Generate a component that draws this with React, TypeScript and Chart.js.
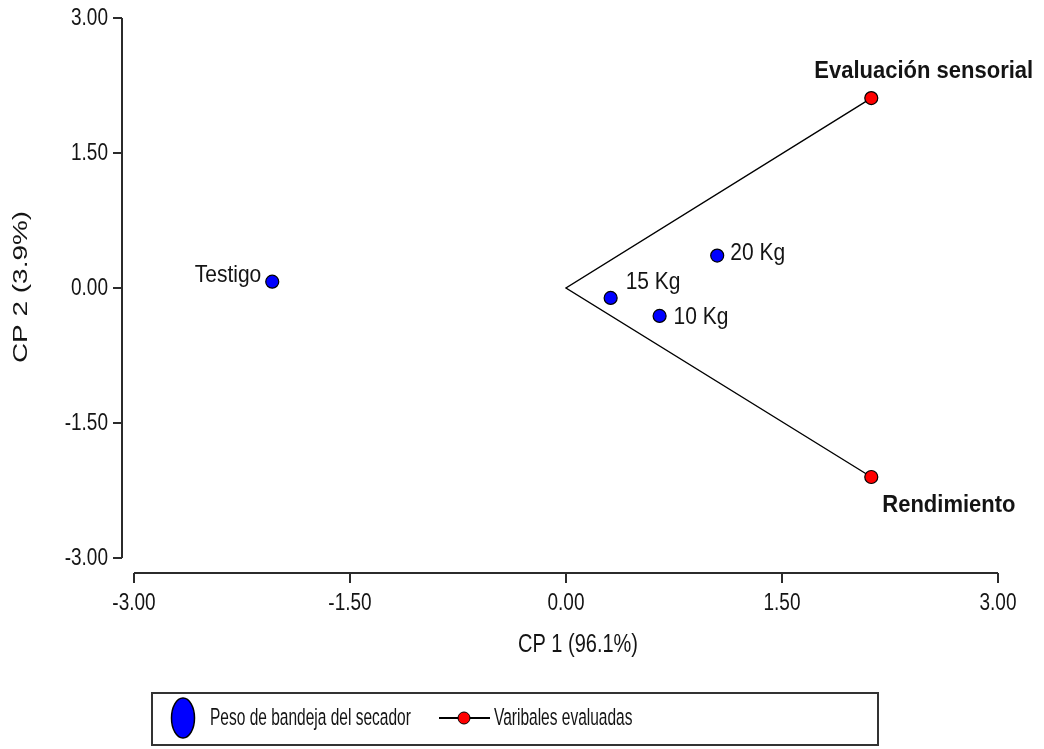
import React, { useEffect, useRef } from "react";
import { Chart, registerables } from "chart.js";

Chart.register(...registerables);

// ---- data ----
const treatmentNames = ["Testigo", "15 Kg", "10 Kg", "20 Kg"];
const treatmentCP1 = [-2.04, 0.31, 0.65, 1.05];
const treatmentCP2 = [0.07, -0.11, -0.31, 0.36];

const variableNames = ["Evaluación sensorial", "Rendimiento"];
const variableCP1 = [2.12, 2.12];
const variableCP2 = [2.11, -2.1];

const tickValues = [-3, -1.5, 0, 1.5, 3];
const tickLabels = ["-3.00", "-1.50", "0.00", "1.50", "3.00"];

const xTitle = "CP 1 (96.1%)";
const yTitle = "CP 2 (3.9%)";
const legendTreatments = "Peso de bandeja del secador";
const legendVariables = "Varibales evaluadas";

const FONT = "'Liberation Sans', Arial, sans-serif";

function drawText(
  ctx: CanvasRenderingContext2D,
  text: string,
  x: number,
  y: number,
  font: string,
  align: CanvasTextAlign,
  baseline: CanvasTextBaseline,
  sy: number,
  color = "#141414"
) {
  ctx.save();
  ctx.translate(x, y);
  ctx.scale(1, sy);
  ctx.font = font;
  ctx.textAlign = align;
  ctx.textBaseline = baseline;
  ctx.fillStyle = color;
  ctx.fillText(text, 0, 0);
  ctx.restore();
}

const biplotPlugin = {
  id: "biplotDecor",
  beforeDatasetsDraw(chart: any) {
    const ctx: CanvasRenderingContext2D = chart.ctx;
    const xs = chart.scales.x;
    const ys = chart.scales.y;
    const area = chart.chartArea;
    ctx.save();
    ctx.strokeStyle = "#2b2b2b";
    ctx.lineWidth = 2;
    // y axis (offset left)
    const ax = area.left - 12;
    ctx.beginPath();
    ctx.moveTo(ax, ys.getPixelForValue(3));
    ctx.lineTo(ax, ys.getPixelForValue(-3));
    ys.ticks.forEach((t: any) => {
      const py = ys.getPixelForValue(t.value);
      ctx.moveTo(ax, py);
      ctx.lineTo(ax - 9, py);
    });
    ctx.stroke();
    // x axis (offset down)
    const ay = area.bottom + 15;
    ctx.beginPath();
    ctx.moveTo(xs.getPixelForValue(-3), ay);
    ctx.lineTo(xs.getPixelForValue(3), ay);
    xs.ticks.forEach((t: any) => {
      const px = xs.getPixelForValue(t.value);
      ctx.moveTo(px, ay);
      ctx.lineTo(px, ay + 10);
    });
    ctx.stroke();
    ctx.restore();

    // tick labels
    ys.ticks.forEach((t: any, i: number) => {
      drawText(ctx, tickLabels[i], ax - 14, ys.getPixelForValue(t.value), `19px ${FONT}`, "right", "middle", 1.3);
    });
    xs.ticks.forEach((t: any, i: number) => {
      drawText(ctx, tickLabels[i], xs.getPixelForValue(t.value), ay + 30, `19px ${FONT}`, "center", "middle", 1.3);
    });

    // axis titles
    drawText(ctx, xTitle, 578, 645, `20px ${FONT}`, "center", "middle", 1.3);
    ctx.save();
    ctx.translate(21, 287);
    ctx.rotate(-Math.PI / 2);
    ctx.scale(1.33, 1);
    ctx.font = `21px ${FONT}`;
    ctx.textAlign = "center";
    ctx.textBaseline = "middle";
    ctx.fillStyle = "#141414";
    ctx.fillText(yTitle, 0, 0);
    ctx.restore();
  },
  afterDraw(chart: any) {
    const ctx: CanvasRenderingContext2D = chart.ctx;
    const xs = chart.scales.x;
    const ys = chart.scales.y;

    // point labels
    const tOff = [
      [-11, 0, "right"],
      [15, -9, "left"],
      [14, 8, "left"],
      [13, 4, "left"],
    ];
    treatmentNames.forEach((name, i) => {
      const px = xs.getPixelForValue(treatmentCP1[i]);
      const py = ys.getPixelForValue(treatmentCP2[i]);
      const o = tOff[i];
      drawText(ctx, name, px + (o[0] as number), py + (o[1] as number), `21px ${FONT}`, o[2] as CanvasTextAlign, "alphabetic", 1.12);
    });
    const vOff = [
      [-57, -20],
      [11, 35],
    ];
    variableNames.forEach((name, i) => {
      const px = xs.getPixelForValue(variableCP1[i]);
      const py = ys.getPixelForValue(variableCP2[i]);
      drawText(ctx, name, px + vOff[i][0], py + vOff[i][1], `bold 22px ${FONT}`, "left", "alphabetic", 1.05);
    });

    // legend box
    ctx.save();
    ctx.strokeStyle = "#333";
    ctx.lineWidth = 2;
    ctx.strokeRect(152, 693, 726, 52);
    // blue ellipse
    ctx.beginPath();
    ctx.ellipse(183, 718, 11.5, 20, 0, 0, Math.PI * 2);
    ctx.fillStyle = "#0000ff";
    ctx.fill();
    ctx.lineWidth = 1.5;
    ctx.strokeStyle = "#000";
    ctx.stroke();
    // line with red marker
    ctx.beginPath();
    ctx.moveTo(439, 718);
    ctx.lineTo(490, 718);
    ctx.lineWidth = 1.8;
    ctx.stroke();
    ctx.beginPath();
    ctx.arc(464, 718, 6, 0, Math.PI * 2);
    ctx.fillStyle = "#ff0000";
    ctx.fill();
    ctx.lineWidth = 1;
    ctx.stroke();
    ctx.restore();
    drawText(ctx, legendTreatments, 210, 719, `15.5px ${FONT}`, "left", "middle", 1.5);
    drawText(ctx, legendVariables, 494, 719, `15.5px ${FONT}`, "left", "middle", 1.5);
  },
};

export default function App() {
  const ref = useRef<HTMLCanvasElement>(null);
  useEffect(() => {
    if (!ref.current) return;
    const chart = new Chart(ref.current, {
      type: "scatter",
      data: {
        datasets: [
          {
            label: legendVariables,
            data: [
              { x: variableCP1[0], y: variableCP2[0] },
              { x: 0, y: 0 },
              { x: variableCP1[1], y: variableCP2[1] },
            ],
            showLine: true,
            borderColor: "#000",
            borderWidth: 1.4,
            pointRadius: [6.5, 0, 6.5],
            pointBackgroundColor: "#ff0000",
            pointBorderColor: "#000",
            pointBorderWidth: 1.2,
            order: 2,
          } as any,
          {
            label: legendTreatments,
            data: treatmentCP1.map((x, i) => ({ x, y: treatmentCP2[i] })),
            pointRadius: 6.5,
            pointBackgroundColor: "#0000ff",
            pointBorderColor: "#000",
            pointBorderWidth: 1.2,
            order: 1,
          } as any,
        ],
      },
      plugins: [biplotPlugin],
      options: {
        animation: false,
        responsive: false,
        events: [],
        layout: { padding: { left: 0, top: 18, right: 46, bottom: 0 } },
        plugins: { legend: { display: false }, tooltip: { enabled: false } },
        scales: {
          x: {
            type: "linear",
            min: -3,
            max: 3,
            grid: { display: false },
            border: { display: false },
            ticks: { display: false },
            afterBuildTicks: (s: any) => {
              s.ticks = tickValues.map((v) => ({ value: v }));
            },
            afterFit: (s: any) => {
              s.height = 191;
            },
          },
          y: {
            type: "linear",
            min: -3,
            max: 3,
            grid: { display: false },
            border: { display: false },
            ticks: { display: false },
            afterBuildTicks: (s: any) => {
              s.ticks = tickValues.map((v) => ({ value: v }));
            },
            afterFit: (s: any) => {
              s.width = 134;
            },
          },
        },
      } as any,
    });
    return () => chart.destroy();
  }, []);
  return (
    <div style={{ position: "fixed", left: 0, top: 0, width: 1044, height: 749, background: "#fff" }}>
      <canvas ref={ref} width={1044} height={749} style={{ width: 1044, height: 749, display: "block" }} />
    </div>
  );
}
